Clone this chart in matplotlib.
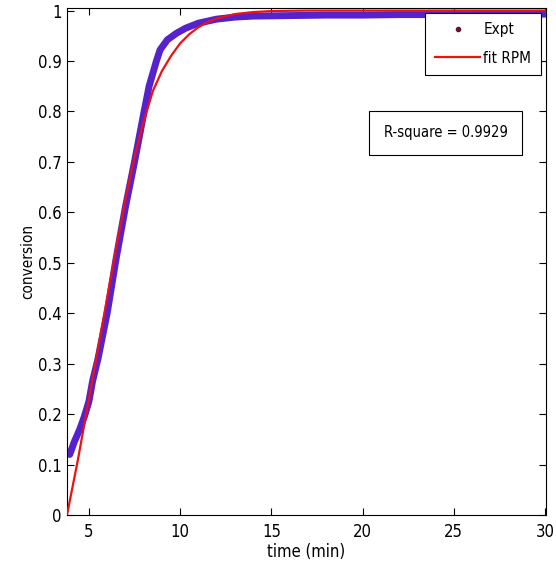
import matplotlib.pyplot as plt
from matplotlib.lines import Line2D

plt.rcParams['font.family'] = ['DejaVu Sans']
plt.rcParams['font.stretch'] = 'condensed'

# experimental conversion vs time
t_expt = [3.95, 4.2, 4.5, 4.75, 5.0, 5.2, 5.5, 6.0, 6.3, 6.5, 7.0, 7.5, 8.0, 8.3,
          8.7, 8.9, 9.3, 9.8, 10.3, 11.0, 12.0, 13.0, 14.0, 16.0, 18.0, 20.0,
          22.0, 24.0, 26.0, 28.0, 30.0]
x_expt = [0.12, 0.145, 0.17, 0.195, 0.225, 0.265, 0.31, 0.40, 0.466, 0.51, 0.61,
          0.70, 0.795, 0.85, 0.90, 0.922, 0.942, 0.955, 0.965, 0.975, 0.983,
          0.987, 0.989, 0.990, 0.991, 0.991, 0.992, 0.992, 0.992, 0.993, 0.993]

# RPM model fit
t_fit = [3.8, 4.4, 5.0, 5.5, 6.0, 6.5, 7.0, 7.5, 8.0, 8.5, 9.0, 9.5, 10.0, 10.5,
         11.0, 11.5, 12.0, 13.0, 14.0, 15.0, 17.0, 20.0, 25.0, 30.0]
x_fit = [0.0, 0.11, 0.23, 0.33, 0.43, 0.53, 0.625, 0.71, 0.78, 0.84, 0.88, 0.91,
         0.935, 0.953, 0.967, 0.977, 0.984, 0.993, 0.997, 0.999, 1.0, 1.0, 1.0, 1.0]

r_square = 0.9929

fig = plt.figure(figsize=(5.56, 5.66), dpi=100)
ax = fig.add_axes([0.1205, 0.0901, 0.8615, 0.8966])

ax.plot(t_expt, x_expt, color='#5522cc', lw=5, solid_capstyle='round',
        solid_joinstyle='round', zorder=2)
ax.plot(t_fit, x_fit, color='#ee1111', lw=1.6, zorder=3)

ax.set_xlim(3.8, 30.05)
ax.set_ylim(0, 1.006)
ax.set_xticks([5, 10, 15, 20, 25, 30])
ax.set_yticks([i / 10 for i in range(11)])
ax.set_yticklabels(['0', '0.1', '0.2', '0.3', '0.4', '0.5', '0.6', '0.7', '0.8', '0.9', '1'])
ax.tick_params(direction='in', length=5, width=0.8, top=True, right=True,
               labelsize=12, colors='black')
ax.tick_params(axis='x', pad=6)
ax.tick_params(axis='y', pad=4)

ax.set_xlabel('time (min)', fontsize=12, labelpad=1)
ax.set_ylabel('conversion', fontsize=11, labelpad=2)

handles = [Line2D([], [], ls='none', marker='.', ms=6, color='#6a1030'),
           Line2D([], [], color='#ee1111', lw=1.6)]
leg = ax.legend(handles, ['Expt', 'fit RPM'], loc='upper right', fontsize=11,
                fancybox=False, edgecolor='black', framealpha=1,
                borderaxespad=0.35, handlelength=3.0, handletextpad=0.2,
                borderpad=0.6, labelspacing=0.9)
leg.get_frame().set_linewidth(0.8)

ax.text(24.56, 0.758, f'R-square = {r_square}', fontsize=10.5, ha='center', va='center',
        bbox=dict(boxstyle='square,pad=1.0', fc='white', ec='black', lw=0.8))

fig.savefig('out.png', dpi=100)
